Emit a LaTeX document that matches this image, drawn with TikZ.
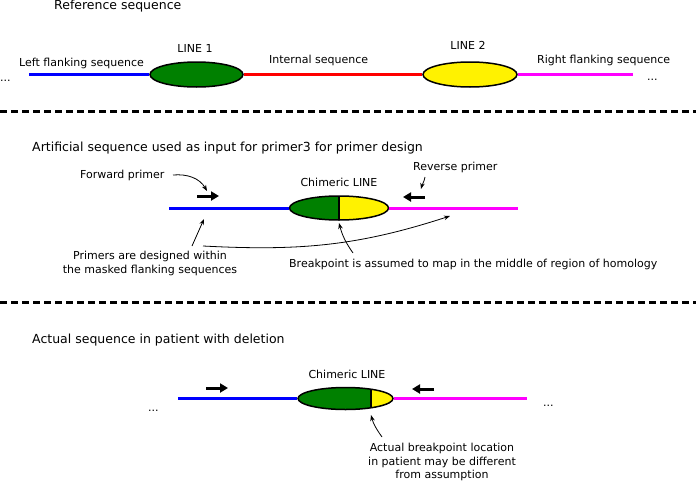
\documentclass[tikz,border=0pt]{standalone}
\usepackage{fontspec}
\setmainfont{DejaVu Sans}
\usetikzlibrary{shapes.geometric,arrows.meta}
\definecolor{linegreen}{RGB}{0,128,0}
\definecolor{seqblue}{RGB}{0,0,255}
\definecolor{seqred}{RGB}{255,0,0}
\definecolor{seqmagenta}{RGB}{255,0,255}

\begin{document}
\begin{tikzpicture}[x=1pt, y=-1pt, lbl/.style={inner sep=0pt, anchor=base, font=\fontsize{11}{13.5}\selectfont}, ttl/.style={inner sep=0pt, anchor=base west, font=\fontsize{12.5}{15}\selectfont}, seq/.style={line width=3pt}, elem/.style={draw, ellipse, line width=1.5pt, inner sep=0pt}, chimera/.style={elem, fill=linegreen, path picture={\fill[yellow] ([xshift=#1]path picture bounding box.north) rectangle (path picture bounding box.south east); \draw[line width=1.5pt] ([xshift=#1]path picture bounding box.north) -- ([xshift=#1]path picture bounding box.south);}}, sep/.style={line width=3pt, dash pattern=on 7pt off 4pt}, primer/.style={line width=3pt, -{Triangle[length=8pt,width=9pt]}}, ptr/.style={line width=0.8pt, -{Stealth[length=6pt,width=4.5pt]}}]
            \useasboundingbox (0,0) rectangle (696,482);
            % reference sequence
            \node[ttl] (title1) at (54,9.5) {Reference sequence};
            \node[elem, fill=linegreen, minimum width=93pt, minimum height=25pt] (line1) at (196.5,74.5) {};
            \node[elem, fill=yellow, minimum width=94pt, minimum height=25pt] (line2) at (470,74.5) {};
            \coordinate (lf1) at (29,74.5);
            \coordinate (rf1) at (633,74.5);
            \node[lbl] (line1lbl) at (195,52) {LINE 1};
            \node[lbl] (line2lbl) at (468,49) {LINE 2};
            \node[lbl, anchor=base west] (leftlbl) at (19,66) {Left flanking sequence};
            \node[lbl, anchor=base west] (intlbl) at (269,63) {Internal sequence};
            \node[lbl, anchor=base west] (rightlbl) at (537,63) {Right flanking sequence};
            \node[lbl, anchor=base west] (dots1l) at (0,81) {...};
            \node[lbl, anchor=base west] (dots1r) at (647,80) {...};
            \draw[seq, seqblue] (lf1) -- (line1.west);
            \draw[seq, seqred] (line1.east) -- (line2.west);
            \draw[seq, seqmagenta] (line2.east) -- (rf1);
            % separators
            \draw[sep] (0,111) -- (696,111);
            \draw[sep] (0,302) -- (696,302);
            % artificial sequence
            \node[ttl] (title2) at (32,151) {Artificial sequence used as input for primer3 for primer design};
            \node[chimera=0pt, minimum width=99pt, minimum height=24pt] (chim) at (339,208) {};
            \coordinate (lf2) at (169,208);
            \coordinate (rf2) at (518,208);
            \node[lbl] (chimlbl) at (339,186) {Chimeric LINE};
            \node[lbl, anchor=base west] (fwdlbl) at (80,178) {Forward primer};
            \node[lbl, anchor=base west] (revlbl) at (413,170) {Reverse primer};
            \node[lbl, align=center, anchor=center] (masklbl) at (150,263.6) {Primers are designed within\\the masked flanking sequences};
            \node[lbl, anchor=base west] (bplbl) at (289,267) {Breakpoint is assumed to map in the middle of region of homology};
            \coordinate (fwd2a) at (197,196);
            \coordinate (fwd2b) at (219,196);
            \coordinate (rev2a) at (425,197);
            \coordinate (rev2b) at (403,197);
            \coordinate (fwdptr) at (173,175);
            \coordinate (revptr) at (425,177);
            \coordinate (maskptra) at (192,246);
            \coordinate (maskptrb) at (203,246);
            \coordinate (bpptr) at (353,253);
            \draw[seq, seqblue] (lf2) -- (chim.west);
            \draw[seq, seqmagenta] (chim.east) -- (rf2);
            \draw[primer] (fwd2a) -- (fwd2b);
            \draw[primer] (rev2a) -- (rev2b);
            \draw[ptr] (fwdptr) to[out=5, in=120] (207,191);
            \draw[ptr] (revptr) to[out=-100, in=75] (421,189);
            \draw[ptr] (maskptra) -- (204,219);
            \draw[ptr] (maskptrb) to[out=-3, in=198] (450,216);
            \draw[ptr] (bpptr) to[out=125, in=-75] (339,223);
            % patient sequence
            \node[ttl] (title3) at (32,343) {Actual sequence in patient with deletion};
            \node[chimera=25.5pt, minimum width=95pt, minimum height=22pt] (chimdel) at (345.5,398.5) {};
            \coordinate (lf3) at (178,398.5);
            \coordinate (rf3) at (527,398.5);
            \node[lbl] (chimdellbl) at (347,378) {Chimeric LINE};
            \node[lbl, anchor=base west] (dots3l) at (148,411) {...};
            \node[lbl, anchor=base west] (dots3r) at (543,406) {...};
            \node[lbl, align=center, anchor=center] (actlbl) at (442,462) {Actual breakpoint location\\in patient may be different\\from assumption};
            \coordinate (fwd3a) at (206,388);
            \coordinate (fwd3b) at (228,388);
            \coordinate (rev3a) at (434,389);
            \coordinate (rev3b) at (412,389);
            \coordinate (actptr) at (382,437);
            \draw[seq, seqblue] (lf3) -- (chimdel.west);
            \draw[seq, seqmagenta] (chimdel.east) -- (rf3);
            \draw[primer] (fwd3a) -- (fwd3b);
            \draw[primer] (rev3a) -- (rev3b);
            \draw[ptr] (actptr) to[out=125, in=-75] (371,415);
        \end{tikzpicture}
\end{document}
